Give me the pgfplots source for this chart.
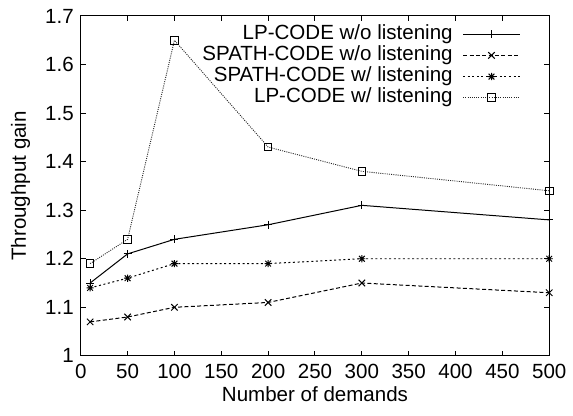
\documentclass[border=0pt]{standalone}
\usepackage{fontspec}
\setmainfont{Liberation Sans}
\usepackage{pgfplots}
\pgfplotsset{compat=1.18}
\pgfdeclareplotmark{plusx}{%
  \pgfpathmoveto{\pgfqpoint{\pgfplotmarksize}{0pt}}%
  \pgfpathlineto{\pgfqpoint{-\pgfplotmarksize}{0pt}}%
  \pgfpathmoveto{\pgfqpoint{0pt}{\pgfplotmarksize}}%
  \pgfpathlineto{\pgfqpoint{0pt}{-\pgfplotmarksize}}%
  \pgfpathmoveto{\pgfqpoint{.8\pgfplotmarksize}{.8\pgfplotmarksize}}%
  \pgfpathlineto{\pgfqpoint{-.8\pgfplotmarksize}{-.8\pgfplotmarksize}}%
  \pgfpathmoveto{\pgfqpoint{-.8\pgfplotmarksize}{.8\pgfplotmarksize}}%
  \pgfpathlineto{\pgfqpoint{.8\pgfplotmarksize}{-.8\pgfplotmarksize}}%
  \pgfusepathqstroke}
\begin{document}
\begin{tikzpicture}
\begin{axis}[
  at={(0pt,0pt)}, anchor=south west,
  scale only axis,
  width=235pt, height=170.5pt,
  xmin=0, xmax=500, ymin=1, ymax=1.7,
  xtick={0,50,...,500},
  ytick={1,1.1,1.2,1.3,1.4,1.5,1.6,1.7},
  yticklabels={1,1.1,1.2,1.3,1.4,1.5,1.6,1.7},
  tick align=inside,
  major tick length=2.5pt,
  axis line style={line width=0.5pt},
  every tick/.style={black, line width=0.5pt},
  /pgf/number format/assume math mode=true,
  font=\fontsize{10.3}{12}\selectfont,
  ticklabel style={font=\fontsize{10.3}{12}\selectfont},
  xticklabel style={yshift=-0.5pt},
  xlabel={Number of demands},
  ylabel={Throughput gain},
  xlabel style={at={(axis description cs:0.5,-0.133)}, anchor=base, inner sep=0pt},
  ylabel style={at={(axis description cs:-0.117,0.5)}, anchor=base, inner sep=0pt},
  legend style={draw=none, fill=none, at={(0.952,0.99)}, anchor=north east,
    row sep=0pt, /tikz/column sep=5pt, font=\fontsize{10.3}{12}\selectfont,
    nodes={inner sep=0pt, text height=7.7pt, text depth=2.9pt}},
  legend cell align=right,
  legend plot pos=right,
  legend image code/.code={%
    \draw[#1, mark repeat=2, mark phase=2] plot coordinates {(0cm,0cm) (0.5cm,0cm) (1cm,0cm)};},
]
\addplot[black, line width=0.5pt, mark=+, mark size=2pt, mark options={solid}]
  coordinates {(10,1.15) (50,1.21) (100,1.24) (200,1.27) (300,1.31) (500,1.28)};
\addlegendentry{LP-CODE w/o listening}
\addplot[black, line width=0.5pt, dash pattern=on 2pt off 1.2pt, mark=x, mark size=2.3pt, mark options={solid}]
  coordinates {(10,1.07) (50,1.08) (100,1.10) (200,1.11) (300,1.15) (500,1.13)};
\addlegendentry{SPATH-CODE w/o listening}
\addplot[black, line width=0.5pt, dash pattern=on 1pt off 1.3pt, mark=plusx, mark size=1.8pt, mark options={solid}]
  coordinates {(10,1.14) (50,1.16) (100,1.19) (200,1.19) (300,1.20) (500,1.20)};
\addlegendentry{SPATH-CODE w/ listening}
\addplot[black!85, line width=0.45pt, dash pattern=on 0.5pt off 0.6pt, mark=square, mark size=1.9pt, mark options={solid, black}]
  coordinates {(10,1.19) (50,1.24) (100,1.65) (200,1.43) (300,1.38) (500,1.34)};
\addlegendentry{LP-CODE w/ listening}
\end{axis}
\path[use as bounding box] (-40.5pt,-30pt) rectangle (246pt,178.5pt);
\end{tikzpicture}
\end{document}
